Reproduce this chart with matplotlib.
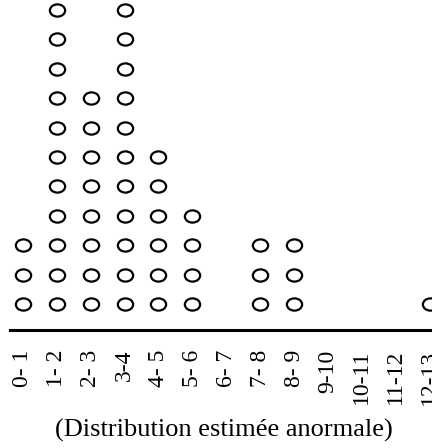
import numpy as np
import matplotlib
matplotlib.use("Agg")
import matplotlib.pyplot as plt
from matplotlib.path import Path
from matplotlib.transforms import Affine2D

# classes et effectifs (un cercle par observation)
classes = ["0- 1", "1- 2", "2- 3", "3-4", "4- 5", "5- 6", "6- 7",
           "7- 8", "8- 9", "9-10", "10-11", "11-12", "12-13"]
effectifs = [3, 11, 8, 11, 6, 4, 0, 3, 3, 0, 0, 0, 1]
titre = "(Distribution estimée anormale)"

plt.rcParams['font.family'] = ['Liberation Serif', 'DejaVu Serif']

# petit cercle un peu aplati comme sur le scan
ovale = Path.unit_circle().transformed(Affine2D().scale(1.0, 0.8))

fig = plt.figure(figsize=(4.32, 4.48), dpi=100)
ax = fig.add_axes([10/432, 118/448, 422/432, 330/448])

for i, n in enumerate(effectifs):
    if n == 0:
        continue
    ys = np.arange(1, n + 1)
    xs = np.full(n, i)
    ax.plot(xs, ys, marker=ovale, ms=11, mfc='white', mec='black', mew=1.6,
            ls='none', clip_on=False)

ax.set_xlim(-0.38, 12.07)
ax.set_ylim(0.116, 11.34)

ax.set_xticks(range(len(classes)))
ax.set_xticklabels(classes, rotation=90, fontsize=17)
ax.tick_params(axis='x', length=0, pad=14)
ax.set_yticks([])

for s in ['top', 'right', 'left']:
    ax.spines[s].set_visible(False)
ax.spines['bottom'].set_linewidth(2.2)

fig.text(224/432, 1 - 430/448, titre, ha='center', va='center', fontsize=19)

fig.savefig("out.png", dpi=100)
